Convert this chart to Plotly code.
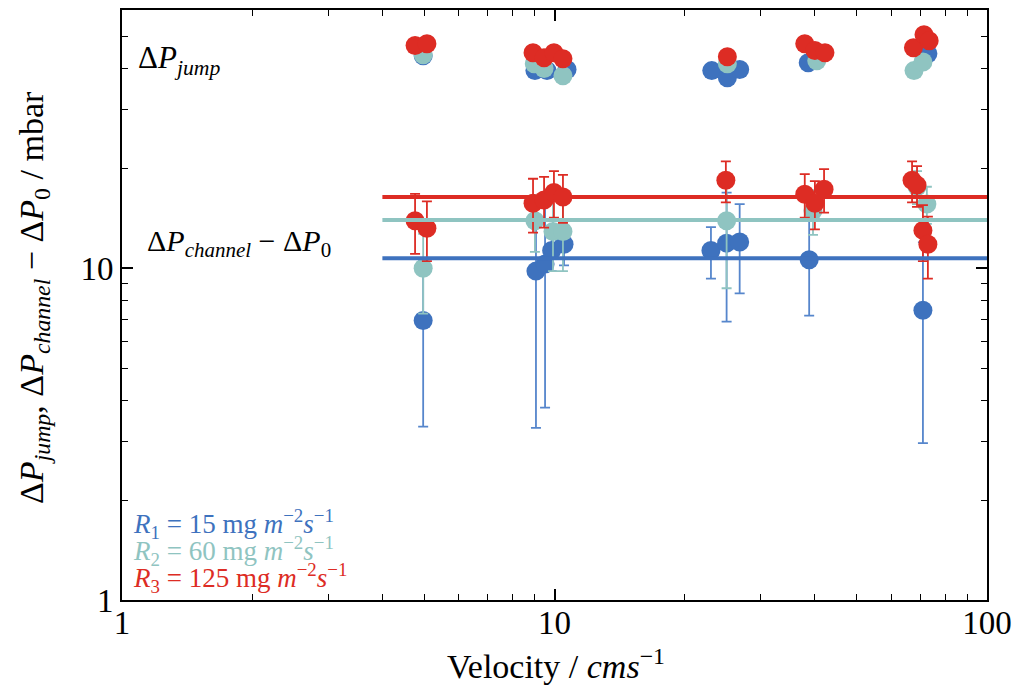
import plotly.graph_objects as go
import numpy as np

# ---------------- data ----------------
# Delta P_jump (no visible error bars)
r1_jump_x = [4.97, 9.01, 9.61, 10.69, 23.1, 25.1, 26.8, 38.6, 73.0]
r1_jump_y = [43.7, 39.4, 39.4, 39.7, 39.4, 37.5, 39.7, 41.6, 44.3]
r2_jump_x = [4.97, 8.98, 9.46, 10.46, 25.1, 40.4, 67.8, 71.1]
r2_jump_y = [44.0, 41.3, 40.0, 38.0, 41.3, 42.2, 39.4, 41.8]
r3_jump_x = [4.76, 5.07, 8.92, 9.46, 9.97, 10.46, 25.1, 37.9, 40.0, 42.2, 67.6, 71.5, 73.5]
r3_jump_y = [46.9, 47.5, 44.6, 43.1, 44.6, 42.8, 43.4, 47.5, 45.3, 44.6, 46.2, 50.5, 48.5]

# Delta P_channel - Delta P_0 with error bars
r1_ch_x = [4.97, 9.06, 9.51, 9.85, 10.52, 23.0, 25.0, 26.8, 38.8, 71.1]
r1_ch_y = [6.96, 9.8, 10.3, 11.3, 11.8, 11.3, 11.9, 12.0, 10.6, 7.47]
r1_ch_e = [3.63, 6.5, 6.5, 1.5, 1.6, 2.0, 5.0, 3.6, 3.4, 4.5]
r2_ch_x = [4.97, 9.01, 9.92, 10.46, 25.0, 39.6, 68.9, 72.6]
r2_ch_y = [10.0, 13.9, 12.9, 12.9, 13.9, 14.9, 17.6, 15.6]
r2_ch_e = [2.7, 2.7, 3.1, 3.1, 5.2, 2.3, 2.0, 2.0]
r3_ch_x = [4.76, 5.07, 8.92, 9.46, 9.97, 10.46, 24.9, 37.9, 40.0, 42.0, 67.1, 68.9, 71.1, 73.0]
r3_ch_y = [13.9, 13.2, 15.7, 16.05, 16.9, 16.4, 18.4, 16.7, 15.7, 17.3, 18.4, 17.8, 13.0, 11.8]
r3_ch_e = [2.85, 2.7, 2.9, 2.8, 2.7, 2.7, 2.6, 2.5, 2.6, 2.6, 2.6, 2.5, 2.5, 2.5]

# mean lines
line_x = [4, 100]
r1_mean = 10.72
r2_mean = 13.96
r3_mean = 16.4

# tick labels
x_ticks = [1, 10, 100]
x_ticktext = ["1", "10", "100"]
y_ticks = [1, 10]
y_ticktext = ["1", "10"]
x_minor = [2, 3, 4, 5, 6, 7, 8, 9, 20, 30, 40, 50, 60, 70, 80, 90]
y_minor = [2, 3, 4, 5, 6, 7, 8, 9, 20, 30, 40, 50]

BLUE = "rgb(62,114,190)"
BLUE_E = "rgb(86,134,204)"
TEAL = "rgb(143,196,193)"
RED = "rgb(221,44,36)"
FONT = "Liberation Serif, Times New Roman, Times, serif"

fig = go.Figure()

def add_series(jx, jy, cx, cy, ce, col, ecol):
    fig.add_trace(go.Scatter(x=jx, y=jy, mode="markers",
                             marker=dict(size=19, color=col), showlegend=False))
    fig.add_trace(go.Scatter(x=cx, y=cy, mode="markers",
                             marker=dict(size=19, color=col),
                             error_y=dict(type="data", array=ce, color=ecol,
                                          thickness=1.8, width=5),
                             showlegend=False))

add_series(r1_jump_x, r1_jump_y, r1_ch_x, r1_ch_y, r1_ch_e, BLUE, BLUE_E)
add_series(r2_jump_x, r2_jump_y, r2_ch_x, r2_ch_y, r2_ch_e, TEAL, TEAL)
add_series(r3_jump_x, r3_jump_y, r3_ch_x, r3_ch_y, r3_ch_e, RED, RED)

for m, col in [(r1_mean, BLUE), (r2_mean, TEAL), (r3_mean, RED)]:
    fig.add_trace(go.Scatter(x=line_x, y=[m, m], mode="lines",
                             line=dict(color=col, width=4), showlegend=False))

axis_common = dict(
    type="log", showgrid=False, zeroline=False, showline=True,
    linecolor="black", linewidth=2, mirror="allticks", automargin=False,
    ticks="inside", ticklen=11, tickwidth=1.6, tickcolor="black",
    tickfont=dict(family=FONT, size=33, color="black"),
)

fig.update_xaxes(range=[0, 2], tickmode="array", tickvals=x_ticks, ticktext=x_ticktext,
                 ticklabelstandoff=-8,
                 minor=dict(tickmode="array", tickvals=x_minor, ticks="inside", ticklen=6,
                            tickwidth=1.3, tickcolor="black", showgrid=False),
                 **axis_common)
fig.update_yaxes(range=[0, np.log10(60)], tickmode="array", tickvals=y_ticks, ticktext=y_ticktext,
                 minor=dict(tickmode="array", tickvals=y_minor, ticks="inside", ticklen=6,
                            tickwidth=1.3, tickcolor="black", showgrid=False),
                 **axis_common)

def px_x(p):
    return (p - 122) / 865.0

def px_y(p):
    return (600 - p) / 590.0

ann = []
ann.append(dict(text="Δ<i>P</i><sub><i>jump</i></sub>", x=px_x(136), y=px_y(60),
                xanchor="left", yanchor="middle", font=dict(size=31, color="black")))
ann.append(dict(text="Δ<i>P</i><sub><i>channel</i></sub> − Δ<i>P</i><sub>0</sub>", x=px_x(145), y=px_y(243),
                xanchor="left", yanchor="middle", font=dict(size=30, color="black")))
leg = [("1", "15", BLUE, 524), ("2", "60", TEAL, 551), ("3", "125", RED, 578)]
for i, v, col, py in leg:
    ann.append(dict(text=f"<i>R</i><sub>{i}</sub> = {v} mg <i>m</i><sup>−2</sup><i>s</i><sup>−1</sup>",
                    x=px_x(131), y=px_y(py), xanchor="left", yanchor="middle",
                    font=dict(size=27, color=col)))
ann.append(dict(text="Velocity / <i>cms</i><sup>−1</sup>", x=px_x(556), y=px_y(664),
                xanchor="center", yanchor="middle", font=dict(size=34, color="black")))
ann.append(dict(text="Δ<i>P</i><sub><i>jump</i></sub>, Δ<i>P</i><sub><i>channel</i></sub> − Δ<i>P</i><sub>0</sub> / mbar",
                x=px_x(34), y=px_y(298), xanchor="center", yanchor="middle", textangle=-90,
                font=dict(size=34, color="black")))
for a in ann:
    a.update(xref="paper", yref="paper", showarrow=False)
    a["font"]["family"] = FONT

fig.update_layout(
    width=1015, height=694,
    margin=dict(l=122, r=28, t=10, b=94, autoexpand=False),
    plot_bgcolor="white", paper_bgcolor="white",
    annotations=ann, showlegend=False,
)

fig.write_html("out.html")
